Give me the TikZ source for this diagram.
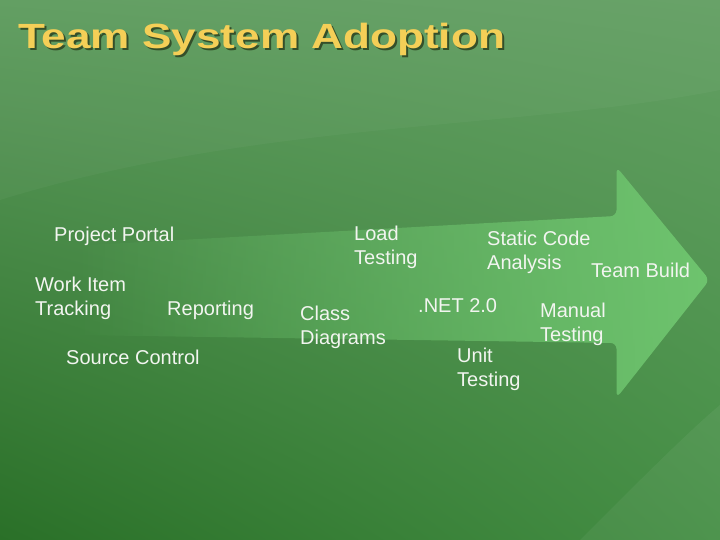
\documentclass[tikz,border=0pt]{standalone}
\usepackage{fontspec}
\setmainfont{Liberation Sans}
\usetikzlibrary{fadings,shadings}
\definecolor{bgTL}{HTML}{5E9C5E}
\definecolor{bgTR}{HTML}{639F63}
\definecolor{bgBL}{HTML}{2A7028}
\definecolor{bgBR}{HTML}{458F45}
\definecolor{arrowgreen}{HTML}{6EC46E}
\definecolor{txt}{HTML}{F2F5F0}
\definecolor{titlecol}{HTML}{F4CF57}
\definecolor{titleshadow}{HTML}{344F2A}
\tikzfading[name=arrowfade, left color=transparent!100, right color=transparent!0]
\newcommand{\ttltext}{\scalebox{1.26}[1]{Team System Adoption}}
\begin{document}
\begin{tikzpicture}[x=1pt,y=-1pt,
  lbl/.style={text=txt, font=\fontsize{20}{24}\selectfont, align=left, anchor=north west, inner sep=0pt},
  ttl/.style={font=\fontsize{35}{40}\selectfont\bfseries, anchor=base west, inner sep=0pt}]
\useasboundingbox (0,0) rectangle (720,540);
\shade[upper left=bgTL, upper right=bgTR, lower left=bgBL, lower right=bgBR] (0,0) rectangle (720,540);
% faint swooshes
\fill[white, opacity=0.035] (0,0) -- (720,0) -- (720,90) .. controls (520,130) and (260,120) .. (0,200) -- cycle;
\fill[white, opacity=0.05] (580,540) .. controls (640,480) and (690,430) .. (720,405) -- (720,540) -- cycle;
% arrow
\fill[arrowgreen, path fading=arrowfade, rounded corners=6pt]
  (72,246) -- (617,216) -- (617,167) -- (710,280) -- (617,398) -- (617,343) -- (72,335) -- cycle;
% title with drop shadow
\node[ttl, text=titlecol] (title) at (18,49)
  {\makebox[0pt][l]{\hspace{2pt}\raisebox{-2pt}{\color{titleshadow}\ttltext}}\ttltext};
% labels
\node[lbl] (portal) at (54,227) {Project Portal};
\node[lbl] (workitem) at (35,277) {Work Item\\Tracking};
\node[lbl] (reporting) at (167,301) {Reporting};
\node[lbl] (source) at (66,350) {Source Control};
\node[lbl] (load) at (354,226) {Load\\Testing};
\node[lbl] (classd) at (300,306) {Class\\Diagrams};
\node[lbl] (static) at (487,231) {Static Code\\Analysis};
\node[lbl] (net) at (418,298) {.NET 2.0};
\node[lbl] (unit) at (457,348) {Unit\\Testing};
\node[lbl] (manual) at (540,303) {Manual\\Testing};
\node[lbl] (build) at (591,263) {Team Build};
\end{tikzpicture}
\end{document}
